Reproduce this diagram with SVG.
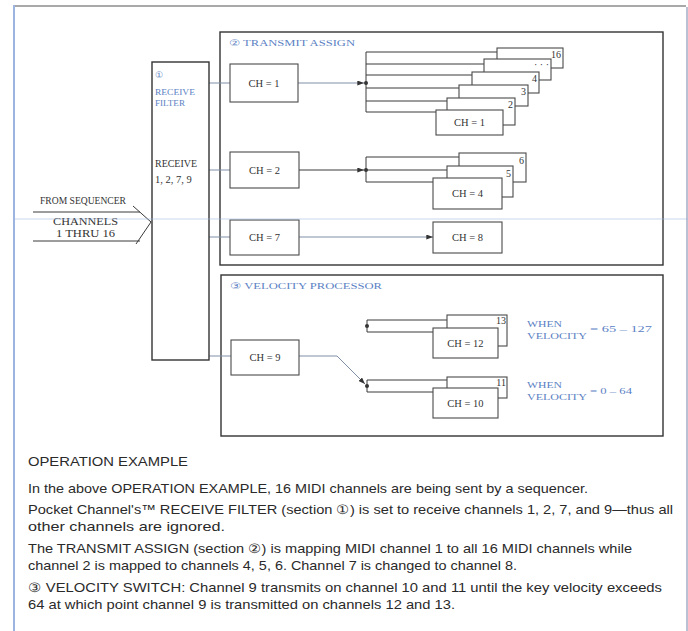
<svg xmlns="http://www.w3.org/2000/svg" width="688" height="631" viewBox="0 0 688 631">
<style>
.frame{fill:none;stroke:#333;stroke-width:1.4}
.box{fill:#fff;stroke:#4a4a4a;stroke-width:1.1}
.ln{fill:none;stroke:#3a3a3a;stroke-width:1}
.lnf{fill:none;stroke:#7f8fa8;stroke-width:1}
.lbl{font-family:"Liberation Serif",serif;font-size:10.5px;fill:#333}
.num{font-family:"Liberation Serif",serif;font-size:10px;fill:#333;text-anchor:end}
.blue{font-family:"Liberation Serif",serif;font-size:8.5px;fill:#5b7fc4}
.ttl{font-family:"Liberation Serif",serif;font-size:9px;fill:#5b7fc4}
.para{font-family:"Liberation Sans",Arial,sans-serif;font-size:13px;fill:#2a2a2a}
.dot{fill:#333}
</style>
<defs>
<marker id="ah" viewBox="0 0 8 6" refX="8" refY="3" markerWidth="7" markerHeight="5" orient="auto" markerUnits="userSpaceOnUse">
<path d="M0,0 L8,3 L0,6 Z" fill="#333"/>
</marker>
</defs>
<rect width="688" height="631" fill="#fff"/>
<g id="page-frame">
<line x1="14" y1="6" x2="686" y2="6" stroke="#555" stroke-width="1.2"/>
<line x1="14" y1="5" x2="14" y2="631" stroke="#9bb5e0" stroke-width="2"/>
<line x1="687" y1="7" x2="687" y2="631" stroke="#8a98b5" stroke-width="1.2"/>
</g>
<g id="transmit-assign">
<rect class="frame" x="220" y="32" width="443" height="233"/>
<text class="ttl" x="229" y="46" textLength="126" lengthAdjust="spacingAndGlyphs">② TRANSMIT ASSIGN</text>
</g>
<g id="velocity-processor">
<rect class="frame" x="221" y="275" width="442" height="161"/>
<text class="ttl" x="230" y="289" textLength="152" lengthAdjust="spacingAndGlyphs">③ VELOCITY PROCESSOR</text>
</g>
<g id="connectors">
<line class="ln" x1="33" y1="212" x2="140" y2="212"/>
<line class="ln" x1="33" y1="241" x2="140" y2="241"/>
<polyline class="ln" points="133,206 151,222 136,244"/>
<line class="lnf" x1="209" y1="83" x2="230" y2="83"/>
<line class="lnf" x1="209" y1="170" x2="230" y2="170"/>
<line class="lnf" x1="209" y1="237" x2="230" y2="237"/>
<line class="lnf" x1="209" y1="356" x2="231" y2="356"/>
<line class="lnf" x1="298" y1="83" x2="364" y2="83" marker-end="url(#ah)"/>
<circle class="dot" cx="366" cy="83" r="2"/>
<line class="ln" x1="366" y1="52" x2="366" y2="112"/>
<line class="ln" x1="366" y1="52" x2="497" y2="52"/>
<line class="ln" x1="366" y1="64" x2="484" y2="64"/>
<line class="ln" x1="366" y1="75" x2="472" y2="75"/>
<line class="ln" x1="366" y1="88" x2="459" y2="88"/>
<line class="ln" x1="366" y1="101" x2="447" y2="101"/>
<line class="ln" x1="366" y1="112" x2="436" y2="112"/>
<line class="ln" x1="299" y1="170" x2="364" y2="170" marker-end="url(#ah)"/>
<circle class="dot" cx="366" cy="170" r="2"/>
<line class="ln" x1="366" y1="157" x2="366" y2="182"/>
<line class="ln" x1="366" y1="157" x2="459" y2="157"/>
<line class="ln" x1="366" y1="170" x2="447" y2="170"/>
<line class="ln" x1="366" y1="182" x2="433" y2="182"/>
<line class="lnf" x1="299" y1="237" x2="433" y2="237" marker-end="url(#ah)"/>
<polyline class="lnf" points="299,356 337,356 365,384" marker-end="url(#ah)"/>
<circle class="dot" cx="367" cy="386" r="2"/>
<line class="ln" x1="367" y1="380" x2="367" y2="392"/>
<line class="ln" x1="367" y1="380" x2="447" y2="380"/>
<line class="ln" x1="367" y1="392" x2="433" y2="392"/>
<circle class="dot" cx="367" cy="326" r="2"/>
<line class="ln" x1="367" y1="320" x2="367" y2="332"/>
<line class="ln" x1="367" y1="320" x2="447" y2="320"/>
<line class="ln" x1="367" y1="332" x2="433" y2="332"/>
</g>
<g id="from-sequencer">
<text class="lbl" x="40" y="204" font-size="8.5" textLength="86" lengthAdjust="spacingAndGlyphs">FROM SEQUENCER</text>
<text class="lbl" x="53" y="225" font-size="8.5" textLength="65" lengthAdjust="spacingAndGlyphs">CHANNELS</text>
<text class="lbl" x="56" y="237" font-size="8.5" textLength="59" lengthAdjust="spacingAndGlyphs">1 THRU 16</text>
</g>
<g id="receive-filter">
<rect class="frame" x="152" y="62" width="57" height="298"/>
<text class="blue" x="155" y="78">①</text>
<text class="blue" x="155" y="95" textLength="40" lengthAdjust="spacingAndGlyphs">RECEIVE</text>
<text class="blue" x="155" y="106" textLength="30" lengthAdjust="spacingAndGlyphs">FILTER</text>
<text class="lbl" x="155" y="167" font-size="8.5" textLength="42" lengthAdjust="spacingAndGlyphs">RECEIVE</text>
<text class="lbl" x="155" y="183" font-size="9">1, 2, 7, 9</text>
</g>
<g id="ch1">
<rect class="box" x="230" y="64" width="68" height="38"/>
<text class="lbl" x="264" y="87" text-anchor="middle">CH = 1</text>
</g>
<g id="ch2">
<rect class="box" x="230" y="152" width="69" height="36"/>
<text class="lbl" x="264.5" y="174" text-anchor="middle">CH = 2</text>
</g>
<g id="ch7">
<rect class="box" x="230" y="220" width="69" height="35"/>
<text class="lbl" x="264.5" y="241" text-anchor="middle">CH = 7</text>
</g>
<g id="ch9">
<rect class="box" x="231" y="340" width="68" height="35"/>
<text class="lbl" x="265" y="361" text-anchor="middle">CH = 9</text>
</g>
<g id="out-ch16"><rect class="box" x="497" y="48" width="66" height="20"/><text class="num" x="561" y="58">16</text></g>
<g id="out-chdots"><rect class="box" x="484" y="59" width="67" height="21"/><text class="num" x="549" y="68">· · ·</text></g>
<g id="out-ch4a"><rect class="box" x="472" y="72" width="67" height="21"/><text class="num" x="537" y="82">4</text></g>
<g id="out-ch3"><rect class="box" x="459" y="85" width="69" height="21"/><text class="num" x="526" y="95">3</text></g>
<g id="out-ch2"><rect class="box" x="447" y="98" width="68" height="27"/><text class="num" x="513" y="108">2</text></g>
<g id="out-ch1"><rect class="box" x="436" y="110" width="67" height="25"/><text class="lbl" x="469.5" y="126" text-anchor="middle">CH = 1</text></g>
<g id="out-ch6"><rect class="box" x="459" y="153" width="67" height="29"/><text class="num" x="524" y="164">6</text></g>
<g id="out-ch5"><rect class="box" x="447" y="166" width="66" height="31"/><text class="num" x="511" y="177">5</text></g>
<g id="out-ch4"><rect class="box" x="433" y="178" width="69" height="31"/><text class="lbl" x="467.5" y="197" text-anchor="middle">CH = 4</text></g>
<g id="out-ch8"><rect class="box" x="433" y="222" width="69" height="31"/><text class="lbl" x="467.5" y="241" text-anchor="middle">CH = 8</text></g>
<g id="out-ch13"><rect class="box" x="447" y="315" width="60" height="31"/><text class="num" x="506" y="324">13</text></g>
<g id="out-ch12"><rect class="box" x="433" y="328" width="65" height="30"/><text class="lbl" x="465.5" y="347" text-anchor="middle">CH = 12</text></g>
<g id="out-ch11"><rect class="box" x="447" y="377" width="60" height="21"/><text class="num" x="506" y="386">11</text></g>
<g id="out-ch10"><rect class="box" x="433" y="388" width="65" height="30"/><text class="lbl" x="465.5" y="407" text-anchor="middle">CH = 10</text></g>
<g id="velocity-high">
<text class="blue" x="527" y="327" textLength="35" lengthAdjust="spacingAndGlyphs">WHEN</text>
<text class="blue" x="527" y="339" textLength="60" lengthAdjust="spacingAndGlyphs">VELOCITY</text>
<text class="blue" x="590" y="332" textLength="62" lengthAdjust="spacingAndGlyphs">= 65 – 127</text>
</g>
<g id="velocity-low">
<text class="blue" x="527" y="388" textLength="35" lengthAdjust="spacingAndGlyphs">WHEN</text>
<text class="blue" x="527" y="400" textLength="60" lengthAdjust="spacingAndGlyphs">VELOCITY</text>
<text class="blue" x="590" y="394" textLength="42" lengthAdjust="spacingAndGlyphs">= 0 – 64</text>
</g>
<line x1="15" y1="219" x2="688" y2="219" stroke="#9fb6df" stroke-width="1" opacity="0.55"/>
<g id="description">
<text class="para" x="28" y="466" textLength="160" lengthAdjust="spacingAndGlyphs">OPERATION EXAMPLE</text>
<text class="para" x="28" y="493" textLength="560" lengthAdjust="spacingAndGlyphs">In the above OPERATION EXAMPLE, 16 MIDI channels are being sent by a sequencer.</text>
<text class="para" x="28" y="514" textLength="645" lengthAdjust="spacingAndGlyphs">Pocket Channel's™ RECEIVE FILTER (section ①) is set to receive channels 1, 2, 7, and 9—thus all</text>
<text class="para" x="28" y="531" textLength="197" lengthAdjust="spacingAndGlyphs">other channels are ignored.</text>
<text class="para" x="28" y="553" textLength="604" lengthAdjust="spacingAndGlyphs">The TRANSMIT ASSIGN (section ②) is mapping MIDI channel 1 to all 16 MIDI channels while</text>
<text class="para" x="28" y="570" textLength="489" lengthAdjust="spacingAndGlyphs">channel 2 is mapped to channels 4, 5, 6. Channel 7 is changed to channel 8.</text>
<text class="para" x="28" y="592" textLength="634" lengthAdjust="spacingAndGlyphs">③ VELOCITY SWITCH: Channel 9 transmits on channel 10 and 11 until the key velocity exceeds</text>
<text class="para" x="28" y="609" textLength="427" lengthAdjust="spacingAndGlyphs">64 at which point channel 9 is transmitted on channels 12 and 13.</text>
</g>
</svg>
